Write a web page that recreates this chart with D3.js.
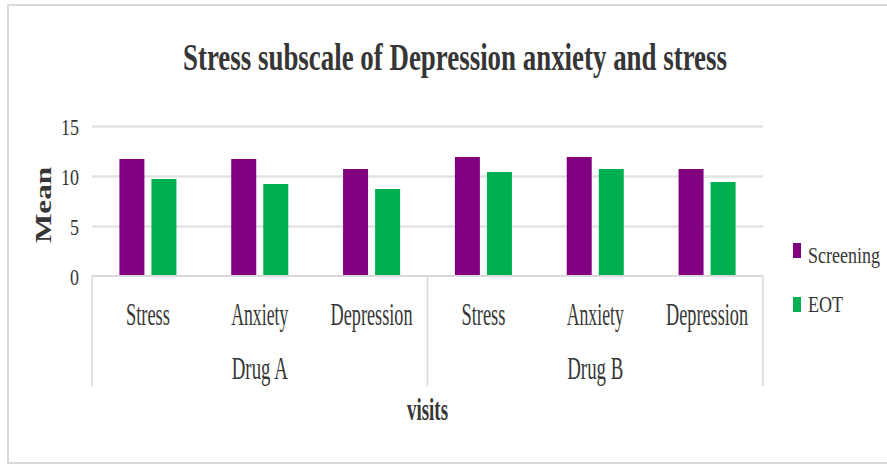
<!DOCTYPE html>
<html>
<head>
<meta charset="utf-8">
<script src="https://cdn.jsdelivr.net/npm/d3@7"></script>
<style>
  html, body { margin: 0; padding: 0; background: #fff; }
  svg { display: block; }
</style>
</head>
<body>
<svg id="chart" width="887" height="466"></svg>
<script>
const categories = ["Stress", "Anxiety", "Depression", "Stress", "Anxiety", "Depression"];
const groups = ["Drug A", "Drug B"];
const seriesNames = ["Screening", "EOT"];
const screening = [11.7, 11.7, 10.7, 11.9, 11.9, 10.7];
const eot = [9.7, 9.2, 8.7, 10.4, 10.7, 9.4];
const yTicks = [0, 5, 10, 15];
const colors = ["#800080", "#00B050"];

const FONT = "'Liberation Serif', 'DejaVu Serif', 'Times New Roman', serif";
const INK = "#363636";

const svg = d3.select("#chart");
const plot = { left: 92, right: 763, top: 126, bottom: 276 };

// outer border
svg.append("rect").attr("x", 8).attr("y", 5).attr("width", 890).attr("height", 458)
  .attr("fill", "#fff").attr("stroke", "#d9d9d9").attr("stroke-width", 2);

const idx = d3.range(categories.length);
const x0 = d3.scaleBand().domain(idx).range([plot.left, plot.right]).paddingInner(0).paddingOuter(0);
const cw = x0.bandwidth();
const x1 = d3.scaleBand().domain(seriesNames).range([cw * 0.245, cw * 0.755]).paddingInner(0.22).paddingOuter(0);
const y = d3.scaleLinear().domain([0, 15]).range([plot.bottom, plot.top]);

function txt(parent, s, x, yy, size, width, opts = {}) {
  const t = parent.append("text").attr("x", x).attr("y", yy)
    .attr("font-family", FONT).attr("fill", INK)
    .attr("font-size", size).attr("text-anchor", opts.anchor || "middle")
    .attr("font-weight", opts.weight || "normal").text(s);
  if (width) t.attr("textLength", width).attr("lengthAdjust", "spacingAndGlyphs");
  return t;
}

// gridlines
const grid = svg.append("g").attr("transform", `translate(${plot.left},0)`)
  .call(d3.axisLeft(y).tickValues(yTicks.filter(v => v > 0)).tickSize(-(plot.right - plot.left)).tickFormat(""));
grid.select(".domain").remove();
grid.selectAll("line").attr("stroke", "#e3e3e3").attr("stroke-width", 2.5);

// y tick labels
const yAxis = svg.append("g").attr("transform", `translate(${plot.left},0)`)
  .call(d3.axisLeft(y).tickValues(yTicks).tickSize(0).tickPadding(13));
yAxis.select(".domain").remove();
yAxis.attr("font-family", FONT);
yAxis.selectAll("text")
  .attr("font-size", 23).attr("fill", INK).attr("dy", "0.36em")
  .attr("font-family", FONT)
  .each(function(d) {
    const w = String(d).length * 9;
    d3.select(this).attr("textLength", w).attr("lengthAdjust", "spacingAndGlyphs");
  });

// bars
const series = [screening, eot];
const bars = svg.append("g");
idx.forEach(i => {
  seriesNames.forEach((s, si) => {
    const v = series[si][i];
    bars.append("rect")
      .attr("x", x0(i) + x1(s))
      .attr("y", y(v))
      .attr("width", x1.bandwidth())
      .attr("height", y(0) - y(v))
      .attr("fill", colors[si]);
  });
});

// x axis baseline and separators
svg.append("line").attr("x1", plot.left).attr("x2", plot.right)
  .attr("y1", plot.bottom).attr("y2", plot.bottom)
  .attr("stroke", "#d9d9d9").attr("stroke-width", 2);
const sepX = [x0(0), x0(3), x0(5) + cw];
sepX.forEach(sx => {
  svg.append("line").attr("x1", sx).attr("x2", sx).attr("y1", plot.bottom).attr("y2", 386)
    .attr("stroke", "#d9d9d9").attr("stroke-width", 1.5);
});

// category labels
const catWidths = { "Stress": 44, "Anxiety": 57, "Depression": 82 };
idx.forEach(i => {
  txt(svg, categories[i], x0(i) + cw / 2, 325, 31, catWidths[categories[i]]);
});
// group labels
groups.forEach((g, gi) => {
  const cx = (x0(gi * 3) + x0(gi * 3 + 2) + cw) / 2;
  txt(svg, g, cx, 379, 31, 56);
});

// axis titles
txt(svg, "visits", (plot.left + plot.right) / 2, 420, 31, 41, { weight: "bold" });
svg.append("text")
  .attr("transform", `translate(51,205) scale(0.72,1) rotate(-90)`)
  .attr("font-family", FONT).attr("fill", INK)
  .attr("text-anchor", "middle").attr("font-size", 31).attr("font-weight", "bold")
  .attr("textLength", 76).attr("lengthAdjust", "spacingAndGlyphs")
  .text("Mean");

// chart title
txt(svg, "Stress subscale of Depression anxiety and stress", 455, 70, 37, 544, { weight: "bold" });

// legend
const legY = [243, 297];
const legW = [72, 35];
seriesNames.forEach((s, si) => {
  svg.append("rect").attr("x", 793).attr("y", legY[si]).attr("width", 8).attr("height", 15).attr("fill", colors[si]);
  txt(svg, s, 808, legY[si] + (si === 0 ? 20 : 15), 24, legW[si], { anchor: "start" });
});
</script>
</body>
</html>
